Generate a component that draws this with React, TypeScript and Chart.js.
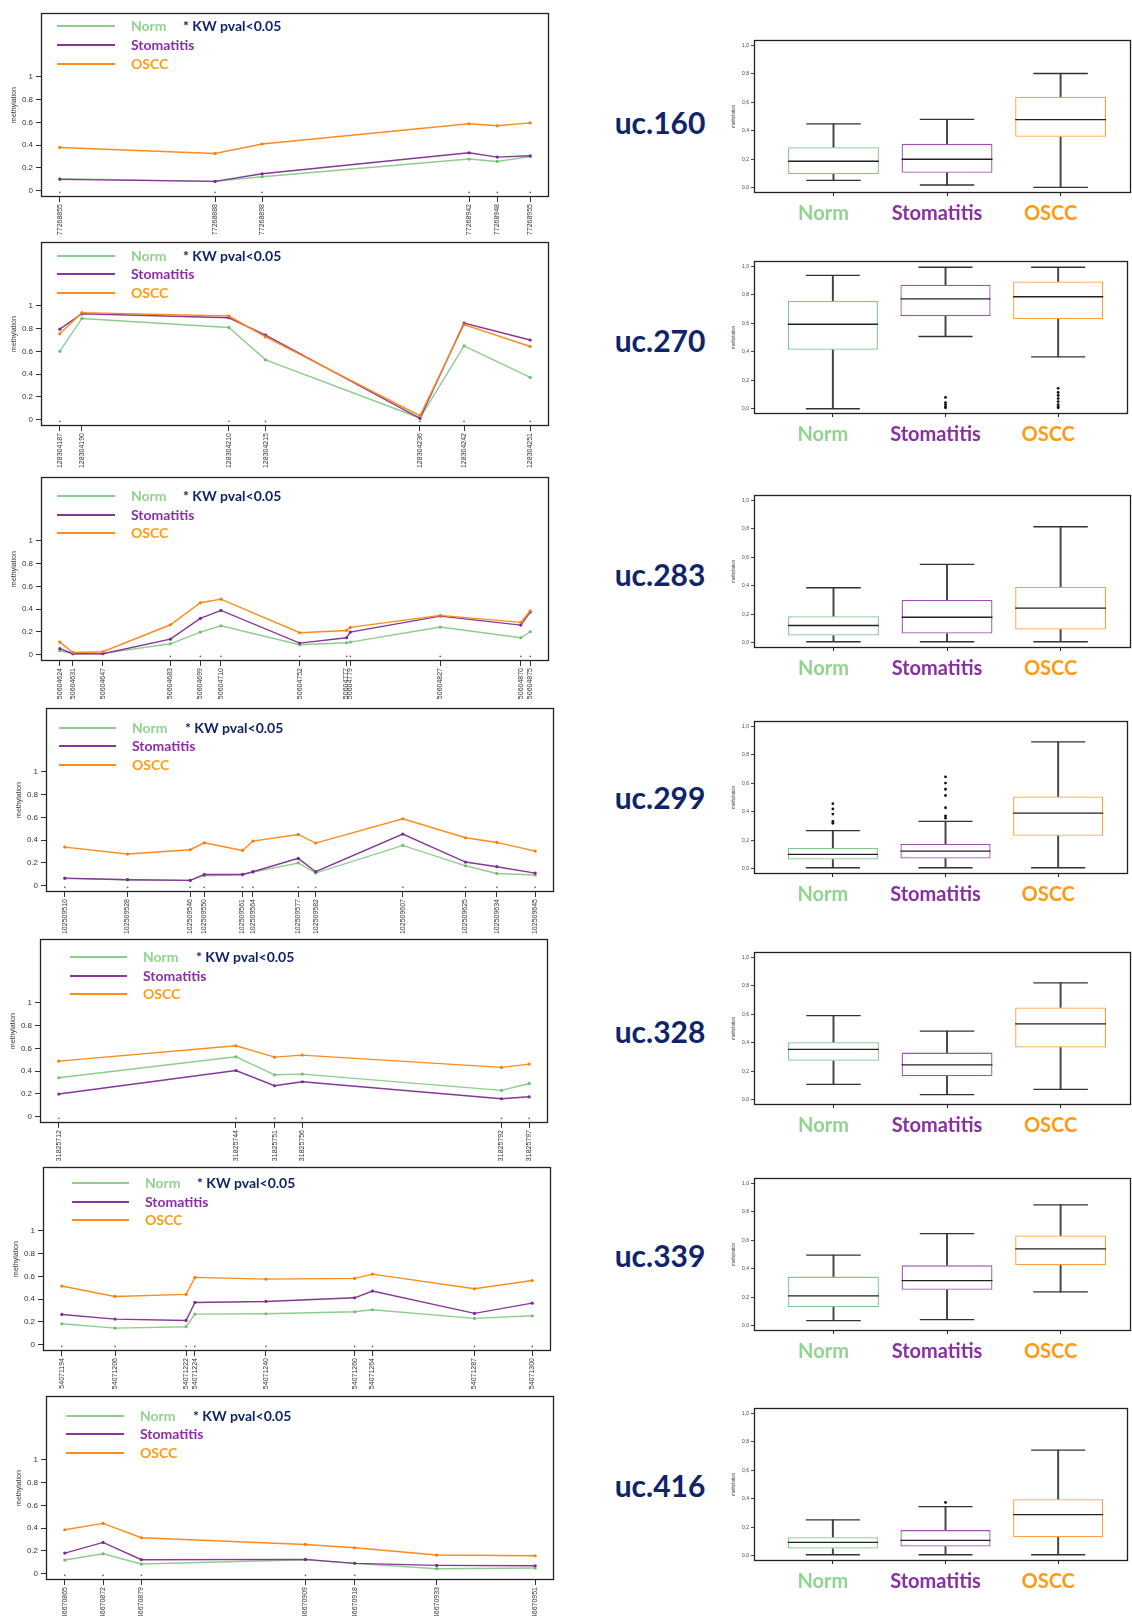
import React, { useEffect, useRef } from 'react';
import { Chart, registerables } from 'chart.js';

Chart.register(...registerables);

// ---- groups ----
const GROUPS = ['Norm', 'Stomatitis', 'OSCC'];
const LINE_COLORS = ['#8ccf8c', '#863797', '#ff8c1a'];
const POINT_COLORS = ['#6fbf6f', '#7a2b8c', '#f57f0c'];
const TEXT_COLORS = ['#8fd48f', '#8a2fa3', '#ff9a14'];
const BOX_COLORS = ['#7fc68f', '#9d52b0', '#ffa03c'];
const NAVY = '#10246a';

const REGIONS = ['uc.160', 'uc.270', 'uc.283', 'uc.299', 'uc.328', 'uc.339', 'uc.416'];

// ---- mean methylation per CpG position ----
const POS_160 = [77268855, 77268888, 77268898, 77268942, 77268948, 77268955];
const NORM_160 = [0.105, 0.082, 0.123, 0.278, 0.257, 0.3];
const STOM_160 = [0.1, 0.082, 0.149, 0.333, 0.295, 0.307];
const OSCC_160 = [0.38, 0.327, 0.41, 0.588, 0.57, 0.596];
const SIG_160 = [1, 1, 1, 1, 1, 1];

const POS_270 = [128304187, 128304190, 128304210, 128304215, 128304236, 128304242, 128304251];
const NORM_270 = [0.6, 0.889, 0.81, 0.526, 0.015, 0.649, 0.371];
const STOM_270 = [0.795, 0.93, 0.895, 0.743, 0.012, 0.848, 0.7];
const OSCC_270 = [0.754, 0.94, 0.91, 0.728, 0.035, 0.836, 0.643];
const SIG_270 = [1, 0, 1, 1, 1, 1, 1];

const POS_283 = [50604624, 50604631, 50604647, 50604683, 50604699, 50604710, 50604752, 50604777, 50604779, 50604827, 50604870, 50604875];
const NORM_283 = [0.035, 0.009, 0.012, 0.096, 0.199, 0.254, 0.088, 0.105, 0.111, 0.243, 0.149, 0.202];
const STOM_283 = [0.053, 0.009, 0.009, 0.137, 0.319, 0.389, 0.102, 0.149, 0.199, 0.339, 0.26, 0.374];
const OSCC_283 = [0.111, 0.02, 0.026, 0.263, 0.456, 0.488, 0.193, 0.213, 0.24, 0.345, 0.284, 0.386];
const SIG_283 = [0, 0, 0, 1, 1, 1, 1, 1, 1, 1, 1, 1];

const POS_299 = [102509510, 102509528, 102509546, 102509550, 102509561, 102509564, 102509577, 102509582, 102509607, 102509625, 102509634, 102509645];
const NORM_299 = [0.064, 0.053, 0.047, 0.088, 0.096, 0.12, 0.2, 0.111, 0.354, 0.175, 0.108, 0.094];
const STOM_299 = [0.067, 0.053, 0.047, 0.099, 0.099, 0.123, 0.24, 0.123, 0.453, 0.208, 0.167, 0.111];
const OSCC_299 = [0.339, 0.278, 0.316, 0.377, 0.31, 0.392, 0.45, 0.374, 0.588, 0.421, 0.38, 0.304];
const SIG_299 = [1, 1, 1, 1, 1, 1, 1, 1, 1, 1, 1, 1];

const POS_328 = [31825712, 31825744, 31825751, 31825756, 31825792, 31825797];
const NORM_328 = [0.342, 0.526, 0.368, 0.374, 0.231, 0.292];
const STOM_328 = [0.199, 0.406, 0.272, 0.307, 0.158, 0.175];
const OSCC_328 = [0.488, 0.623, 0.523, 0.541, 0.433, 0.462];
const SIG_328 = [1, 1, 1, 1, 1, 1];

const POS_339 = [54071194, 54071206, 54071222, 54071224, 54071240, 54071260, 54071264, 54071287, 54071300];
const NORM_339 = [0.184, 0.146, 0.158, 0.269, 0.272, 0.289, 0.307, 0.231, 0.254];
const STOM_339 = [0.266, 0.225, 0.213, 0.371, 0.38, 0.412, 0.471, 0.275, 0.365];
const OSCC_339 = [0.515, 0.424, 0.442, 0.591, 0.576, 0.582, 0.62, 0.491, 0.564];
const SIG_339 = [1, 1, 1, 1, 1, 1, 1, 1, 1];

const POS_416 = [46670865, 46670872, 46670879, 46670909, 46670918, 46670933, 46670951];
const NORM_416 = [0.12, 0.175, 0.085, 0.123, 0.091, 0.044, 0.05];
const STOM_416 = [0.181, 0.275, 0.123, 0.126, 0.091, 0.073, 0.07];
const OSCC_416 = [0.386, 0.442, 0.316, 0.257, 0.228, 0.164, 0.158];
const SIG_416 = [1, 1, 1, 1, 1, 0, 0];

// ---- box plot summaries: [lower whisker, Q1, median, Q3, upper whisker] for Norm, Stomatitis, OSCC ----
const BOX_160 = [[0.051, 0.096, 0.186, 0.284, 0.448], [0.019, 0.105, 0.2, 0.308, 0.48], [0.002, 0.357, 0.478, 0.639, 0.802]];
const BOX_270 = [[0.0, 0.414, 0.593, 0.757, 0.936], [0.507, 0.65, 0.771, 0.871, 0.993], [0.364, 0.629, 0.786, 0.893, 0.993]];
const BOX_283 = [[0.007, 0.05, 0.121, 0.186, 0.386], [0.007, 0.064, 0.179, 0.3, 0.55], [0.007, 0.093, 0.243, 0.393, 0.814]];
const BOX_299 = [[0.007, 0.065, 0.101, 0.145, 0.268], [0.007, 0.072, 0.123, 0.174, 0.333], [0.007, 0.232, 0.391, 0.507, 0.891]];
const BOX_328 = [[0.108, 0.273, 0.353, 0.403, 0.59], [0.036, 0.165, 0.245, 0.331, 0.482], [0.072, 0.367, 0.532, 0.647, 0.82]];
const BOX_339 = [[0.036, 0.13, 0.209, 0.345, 0.496], [0.043, 0.252, 0.317, 0.424, 0.647], [0.237, 0.424, 0.54, 0.633, 0.849]];
const BOX_416 = [[0.007, 0.05, 0.094, 0.13, 0.252], [0.007, 0.065, 0.108, 0.18, 0.345], [0.007, 0.13, 0.288, 0.396, 0.741]];

// outliers per group
const OUT_160 = [[], [], []];
const OUT_270 = [[], [0.079, 0.043, 0.029, 0.014, 0.007], [0.143, 0.114, 0.093, 0.071, 0.05, 0.029, 0.014, 0.007]];
const OUT_283 = [[], [], []];
const OUT_299 = [[0.457, 0.42, 0.384, 0.333, 0.319], [0.645, 0.601, 0.558, 0.514, 0.428, 0.37, 0.355], []];
const OUT_328 = [[], [], []];
const OUT_339 = [[], [], []];
const OUT_416 = [[], [0.374], []];

const LINE_Y_TICKS = [0, 0.2, 0.4, 0.6, 0.8, 1];
const BOX_Y_TICKS = [0, 0.2, 0.4, 0.6, 0.8, 1];

// ---- layout (px) ----
const LINE_TOP = [13, 242, 477, 708, 939, 1167, 1396];
const LINE_LEFT = [41, 41, 41, 46, 40, 43, 46];
const LINE_AREA_W = 508;
const LINE_AREA_H = 184;
const LEGEND_X = [
  [57, 115, 131, 183],
  [57, 115, 131, 183],
  [57, 115, 131, 183],
  [59, 116, 132, 185],
  [70, 127, 143, 196],
  [72, 129, 145, 197],
  [66, 124, 140, 193],
];
const LEGEND_Y = [
  [13, 31.6, 50.6],
  [13.7, 32, 50.7],
  [18.7, 37.7, 56],
  [20, 38.4, 57.4],
  [18, 36.7, 55],
  [16, 35, 53.3],
  [20, 38.3, 56.7],
];
const BOX_TOP = [40, 261, 495, 721, 952, 1178, 1408];
const BOX_AREA_H = 153;
const BOX_CANVAS_LEFT = 700;
const BOX_AXIS_W = 54;
const BOX_CANVAS_W = 432;
const UC_X = 660;
const UC_Y = [122, 340, 574, 797, 1031, 1255, 1485];

const ROWS = [
  { pos: POS_160, series: [NORM_160, STOM_160, OSCC_160], sig: SIG_160, box: BOX_160, out: OUT_160 },
  { pos: POS_270, series: [NORM_270, STOM_270, OSCC_270], sig: SIG_270, box: BOX_270, out: OUT_270 },
  { pos: POS_283, series: [NORM_283, STOM_283, OSCC_283], sig: SIG_283, box: BOX_283, out: OUT_283 },
  { pos: POS_299, series: [NORM_299, STOM_299, OSCC_299], sig: SIG_299, box: BOX_299, out: OUT_299 },
  { pos: POS_328, series: [NORM_328, STOM_328, OSCC_328], sig: SIG_328, box: BOX_328, out: OUT_328 },
  { pos: POS_339, series: [NORM_339, STOM_339, OSCC_339], sig: SIG_339, box: BOX_339, out: OUT_339 },
  { pos: POS_416, series: [NORM_416, STOM_416, OSCC_416], sig: SIG_416, box: BOX_416, out: OUT_416 },
];

const AXIS_FONT = 'Liberation Sans, Arial, sans-serif';

// box frame around the plotting region
const framePlugin = {
  id: 'frame',
  afterDraw(chart: any) {
    const { ctx, chartArea } = chart;
    const l = Math.round(chartArea.left) + 0.5;
    const t = Math.round(chartArea.top) + 0.5;
    const r = Math.round(chartArea.right) - 0.5;
    const b = Math.round(chartArea.bottom) - 0.5;
    ctx.save();
    ctx.strokeStyle = '#222';
    ctx.lineWidth = 1.3;
    ctx.strokeRect(l, t, r - l, b - t);
    ctx.restore();
  },
};

const PT = 12;
const PR = 10;
const XH = 48;

function LinePanel({ row, idx }: { row: any; idx: number }) {
  const ref = useRef<HTMLCanvasElement>(null);
  const left = LINE_LEFT[idx];
  const width = left + LINE_AREA_W + PR;
  const height = PT + LINE_AREA_H + XH;
  useEffect(() => {
    const pos: number[] = row.pos;
    const span = pos[pos.length - 1] - pos[0];
    const xmin = pos[0] - 0.04 * span;
    const xmax = pos[pos.length - 1] + 0.04 * span;
    const lines = [2, 1, 0].map((g) => ({
      type: 'line' as const,
      label: GROUPS[g],
      data: pos.map((x, i) => ({ x, y: row.series[g][i] })),
      borderColor: LINE_COLORS[g],
      backgroundColor: POINT_COLORS[g],
      borderWidth: 1.4,
      pointRadius: 1.6,
      pointBorderWidth: 0,
      pointBackgroundColor: POINT_COLORS[g],
      tension: 0,
    }));
    const marks = {
      type: 'scatter' as const,
      label: 'KW',
      data: pos.filter((_, i) => row.sig[i]).map((x) => ({ x, y: -0.014 })),
      pointRadius: 0.9,
      pointBorderWidth: 0,
      backgroundColor: '#666',
      order: 10,
    };
    const chart = new Chart(ref.current as HTMLCanvasElement, {
      type: 'line',
      data: { datasets: [...lines, marks] as any },
      options: {
        animation: false,
        responsive: false,
        maintainAspectRatio: false,
        layout: { padding: { top: PT, right: PR, left: 0, bottom: 0 } },
        plugins: { legend: { display: false }, tooltip: { enabled: false } },
        scales: {
          x: {
            type: 'linear',
            min: xmin,
            max: xmax,
            afterBuildTicks: (s: any) => {
              s.ticks = pos.map((v) => ({ value: v }));
            },
            afterFit: (s: any) => {
              s.height = XH;
            },
            ticks: {
              autoSkip: false,
              minRotation: 90,
              maxRotation: 90,
              padding: 2,
              font: { size: 7, family: AXIS_FONT },
              color: '#333',
              callback: (v: any) => String(v),
            },
            grid: { drawOnChartArea: false, tickLength: 5, tickColor: '#333' },
            border: { display: false },
          },
          y: {
            type: 'linear',
            min: -0.055,
            max: 1.56,
            afterBuildTicks: (s: any) => {
              s.ticks = LINE_Y_TICKS.map((v) => ({ value: v }));
            },
            afterFit: (s: any) => {
              s.width = left;
            },
            ticks: {
              padding: 3,
              font: { size: 8, family: AXIS_FONT },
              color: '#333',
              callback: (v: any) => String(v),
            },
            grid: { drawOnChartArea: false, tickLength: 5, tickColor: '#333' },
            border: { display: false },
            title: {
              display: true,
              text: 'methylation',
              color: '#333',
              font: { size: 7, family: AXIS_FONT },
              padding: { top: left - 31, bottom: 0 },
            },
          },
        },
      },
      plugins: [framePlugin],
    });
    return () => chart.destroy();
  }, []);
  return (
    <canvas
      ref={ref}
      width={width}
      height={height}
      style={{ position: 'absolute', left: 0, top: LINE_TOP[idx] - PT, width, height }}
    />
  );
}

const BPT = 10;
const BXH = 45;
const BOX_XMIN = 0.3;
const BOX_XMAX = 3.62;
const CAP_HALF = 0.24;

function BoxPanel({ row, idx }: { row: any; idx: number }) {
  const ref = useRef<HTMLCanvasElement>(null);
  const height = BPT + BOX_AREA_H + BXH;
  useEffect(() => {
    const xs = [1, 2, 3];
    const stats: number[][] = row.box;
    const capRadius = (c: any) => {
      const s = c.chart.scales.x;
      return s ? s.getPixelForValue(1 + CAP_HALF) - s.getPixelForValue(1) : 27;
    };
    const medRadius = (c: any) => {
      const s = c.chart.scales.x;
      return s ? s.getPixelForValue(1.4) - s.getPixelForValue(1) : 45;
    };
    const datasets: any[] = [
      {
        type: 'bar',
        label: 'lower whisker',
        data: xs.map((x, i) => ({ x, y: [stats[i][0], stats[i][1]] })),
        backgroundColor: '#444',
        barThickness: 1.3,
        grouped: false,
        order: 5,
      },
      {
        type: 'bar',
        label: 'upper whisker',
        data: xs.map((x, i) => ({ x, y: [stats[i][3], stats[i][4]] })),
        backgroundColor: '#444',
        barThickness: 1.3,
        grouped: false,
        order: 5,
      },
      {
        type: 'bar',
        label: 'IQR',
        data: xs.map((x, i) => ({ x, y: [stats[i][1], stats[i][3]] })),
        backgroundColor: 'rgba(255,255,255,1)',
        borderColor: BOX_COLORS,
        borderWidth: 1.3,
        borderSkipped: false,
        categoryPercentage: 1,
        barPercentage: 0.8,
        grouped: false,
        order: 4,
      },
      {
        type: 'scatter',
        label: 'median',
        data: xs.map((x, i) => ({ x, y: stats[i][2] })),
        pointStyle: 'line',
        pointRadius: medRadius,
        pointBorderColor: '#222',
        pointBorderWidth: 1.3,
        order: 2,
      },
      {
        type: 'scatter',
        label: 'caps',
        data: xs.flatMap((x, i) => [
          { x, y: stats[i][0] },
          { x, y: stats[i][4] },
        ]),
        pointStyle: 'line',
        pointRadius: capRadius,
        pointBorderColor: '#333',
        pointBorderWidth: 1.3,
        order: 2,
      },
      {
        type: 'scatter',
        label: 'outliers',
        data: xs.flatMap((x, i) => (row.out[i] as number[]).map((y) => ({ x, y }))),
        pointRadius: 1.4,
        pointBorderWidth: 0,
        backgroundColor: '#111',
        order: 1,
      },
    ];
    const chart = new Chart(ref.current as HTMLCanvasElement, {
      type: 'bar',
      data: { datasets },
      options: {
        animation: false,
        responsive: false,
        maintainAspectRatio: false,
        layout: { padding: { top: BPT, right: 1, left: 0, bottom: 0 } },
        plugins: { legend: { display: false }, tooltip: { enabled: false } },
        scales: {
          x: {
            type: 'linear',
            min: BOX_XMIN,
            max: BOX_XMAX,
            offset: false,
            afterBuildTicks: (s: any) => {
              s.ticks = xs.map((v) => ({ value: v }));
            },
            afterFit: (s: any) => {
              s.height = BXH;
            },
            ticks: {
              autoSkip: false,
              maxRotation: 0,
              padding: 6,
              labelOffset: -10,
              font: { size: 20, family: 'Lato, sans-serif', weight: 'bold' },
              color: (c: any) => TEXT_COLORS[c.index] || '#000',
              callback: (_v: any, i: number) => GROUPS[i],
            },
            grid: { drawOnChartArea: false, offset: false, tickLength: 3, tickColor: '#222' },
            border: { display: false },
          },
          y: {
            type: 'linear',
            min: -0.037,
            max: 1.037,
            afterBuildTicks: (s: any) => {
              s.ticks = BOX_Y_TICKS.map((v) => ({ value: v }));
            },
            afterFit: (s: any) => {
              s.width = BOX_AXIS_W;
            },
            ticks: {
              padding: 2,
              font: { size: 5, family: AXIS_FONT },
              color: '#444',
              callback: (v: any) => Number(v).toFixed(1).replace('.', ','),
            },
            grid: { drawOnChartArea: false, tickLength: 3, tickColor: '#444' },
            border: { display: false },
            title: {
              display: true,
              text: 'methylation',
              color: '#444',
              font: { size: 4.5, family: AXIS_FONT },
              padding: { top: 31, bottom: 0 },
            },
          },
        },
      },
      plugins: [framePlugin],
    });
    return () => chart.destroy();
  }, []);
  return (
    <canvas
      ref={ref}
      width={BOX_CANVAS_W}
      height={height}
      style={{ position: 'absolute', left: BOX_CANVAS_LEFT, top: BOX_TOP[idx] - BPT, width: BOX_CANVAS_W, height }}
    />
  );
}

function Legend({ idx }: { idx: number }) {
  const [x0, x1, tx, kx] = LEGEND_X[idx];
  const top = LINE_TOP[idx];
  const font = 'Lato, sans-serif';
  return (
    <>
      {GROUPS.map((g, gi) => {
        const y = top + LEGEND_Y[idx][gi];
        return (
          <React.Fragment key={g}>
            <div
              style={{ position: 'absolute', left: x0, top: y - 1, width: x1 - x0, height: 2, background: LINE_COLORS[gi] }}
            />
            <div
              style={{
                position: 'absolute',
                left: tx,
                top: y,
                transform: 'translateY(-52%)',
                font: `bold 14px ${font}`,
                color: TEXT_COLORS[gi],
                whiteSpace: 'nowrap',
                lineHeight: '16px',
              }}
            >
              {g}
            </div>
          </React.Fragment>
        );
      })}
      <div
        style={{
          position: 'absolute',
          left: kx,
          top: top + LEGEND_Y[idx][0],
          transform: 'translateY(-52%)',
          font: `bold 14px ${font}`,
          color: NAVY,
          whiteSpace: 'nowrap',
          lineHeight: '16px',
        }}
      >
        * KW pval&lt;0.05
      </div>
    </>
  );
}

export default function App() {
  return (
    <div
      style={{
        position: 'absolute',
        left: 0,
        top: 0,
        width: 1132,
        height: 1616,
        overflow: 'hidden',
        background: '#fff',
      }}
    >
      {ROWS.map((row, i) => (
        <React.Fragment key={REGIONS[i]}>
          <LinePanel row={row} idx={i} />
          <Legend idx={i} />
          <div
            style={{
              position: 'absolute',
              left: UC_X,
              top: UC_Y[i],
              transform: 'translate(-50%, -50%)',
              font: 'bold 30px Lato, sans-serif',
              color: NAVY,
              whiteSpace: 'nowrap',
            }}
          >
            {REGIONS[i]}
          </div>
          <BoxPanel row={row} idx={i} />
        </React.Fragment>
      ))}
    </div>
  );
}
